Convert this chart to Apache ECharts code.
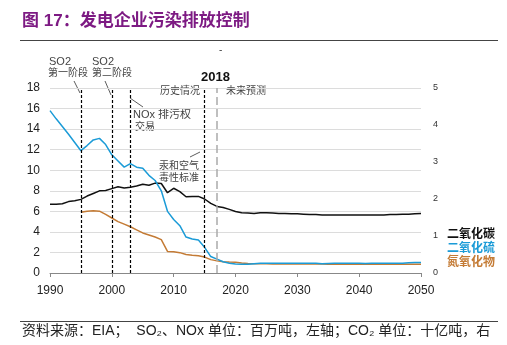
<!DOCTYPE html>
<html><head><meta charset="utf-8">
<script src="https://cdn.jsdelivr.net/npm/echarts@6/dist/echarts.min.js"></script>
<style>html,body{margin:0;padding:0;background:#fff}#c{width:507px;height:345px}</style>
</head><body><div id="c"></div>
<script>
// ---- data ----
const years = [];
for (let y = 1990; y <= 2050; y++) years.push(y);

const so2 = [15.8,15.0,14.25,13.5,12.7,11.9,12.4,12.95,13.1,12.5,
  11.5,10.9,10.3,10.65,10.3,10.2,9.5,9.0,8.0,6.0,
  5.2,4.6,3.5,3.3,3.2,2.5,1.6,1.35,1.1,0.95,
  0.88,0.85,0.86,0.9,0.94,0.96,0.96,0.96,0.96,0.96,
  0.96,0.96,0.95,0.94,0.9,0.93,0.95,0.96,0.96,0.96,
  0.95,0.92,0.94,0.95,0.95,0.95,0.95,0.96,1.0,1.02,
  1.02];
const nox = [null,null,null,null,null,5.9,6.0,6.05,6.02,5.7,
  5.35,5.0,4.75,4.5,4.2,3.9,3.7,3.5,3.25,2.1,
  2.07,1.98,1.8,1.72,1.68,1.55,1.3,1.18,1.1,1.07,
  1.05,0.98,0.92,0.9,0.89,0.89,0.88,0.88,0.88,0.88,
  0.88,0.88,0.88,0.88,0.87,0.86,0.86,0.86,0.86,0.86,
  0.86,0.86,0.86,0.86,0.86,0.86,0.86,0.86,0.85,0.85,
  0.85];
const co2 = [1.86,1.86,1.87,1.93,1.95,1.99,2.08,2.15,2.22,2.23,
  2.28,2.33,2.30,2.32,2.35,2.40,2.37,2.43,2.42,2.17,
  2.29,2.20,2.06,2.07,2.07,2.00,1.88,1.80,1.77,1.72,
  1.66,1.63,1.62,1.61,1.63,1.63,1.62,1.61,1.61,1.60,
  1.60,1.59,1.58,1.58,1.57,1.57,1.57,1.57,1.57,1.57,
  1.57,1.57,1.57,1.57,1.57,1.58,1.58,1.59,1.59,1.60,
  1.61];
const policyYears = [1995, 2000, 2003, 2015];
const forecastYear = 2017;
const leftTicks = {min: 0, max: 18, interval: 2};
const rightTicks = {min: 0, max: 5, interval: 1};
const xTicks = {min: 1990, max: 2050, interval: 10};
const seriesNames = ['二氧化碳', '二氧化硫', '氮氧化物'];

// ---- chart ----
const pairs = arr => years.map((y, i) => [y, arr[i]]);
const CJK = '"Liberation Sans","Noto Sans CJK SC",sans-serif';
const ann = '#444';
const chart = echarts.init(document.getElementById('c'), null, {renderer: 'canvas'});
chart.setOption({
  animation: false,
  textStyle: {fontFamily: CJK},
  grid: {left: 50, right: 86, top: 88, bottom: 72},
  legend: {
    orient: 'vertical', left: 442, top: 224, itemWidth: 0, itemHeight: 0, itemGap: 2,
    selectedMode: false, icon: 'rect',
    data: [
      {name: seriesNames[0], textStyle: {color: '#111'}},
      {name: seriesNames[1], textStyle: {color: '#1b9bd7'}},
      {name: seriesNames[2], textStyle: {color: '#c47b35'}}
    ],
    textStyle: {fontSize: 12, fontWeight: 'bold', fontFamily: CJK, padding: [0,0,0,-5]}
  },
  xAxis: {
    type: 'value', min: xTicks.min, max: xTicks.max, interval: xTicks.interval,
    axisLine: {lineStyle: {color: '#888'}},
    axisTick: {show: true, length: 4, lineStyle: {color: '#888'}},
    axisLabel: {color: '#222', fontSize: 12, margin: 12, fontFamily: CJK, formatter: v => String(v)},
    splitLine: {show: false}
  },
  yAxis: [{
    type: 'value', min: leftTicks.min, max: leftTicks.max, interval: leftTicks.interval,
    axisLine: {show: false}, axisTick: {show: false},
    axisLabel: {color: '#222', fontSize: 12, margin: 10, fontFamily: CJK},
    splitLine: {lineStyle: {color: '#dcdcdc', width: 1}}
  }, {
    type: 'value', min: rightTicks.min, max: rightTicks.max, interval: rightTicks.interval,
    position: 'right',
    axisLine: {show: false}, axisTick: {show: false},
    axisLabel: {color: '#333', fontSize: 9, margin: 12, fontFamily: CJK},
    splitLine: {show: false}
  }],
  series: [{
    name: seriesNames[0], type: 'line', yAxisIndex: 1, data: pairs(co2),
    symbol: 'none', lineStyle: {color: '#111', width: 1.5}, itemStyle: {color: '#111'}, z: 3
  }, {
    name: seriesNames[1], type: 'line', yAxisIndex: 0, data: pairs(so2),
    symbol: 'none', lineStyle: {color: '#1b9bd7', width: 1.5}, itemStyle: {color: '#1b9bd7'}, z: 4,
    markLine: {
      silent: true, symbol: 'none', label: {show: false},
      lineStyle: {color: '#000', type: [3, 2], width: 1.2},
      data: policyYears.map(y => ({xAxis: y})).concat([
        {xAxis: forecastYear, lineStyle: {color: '#aaa', type: [8, 4], width: 1.5}}
      ])
    }
  }, {
    name: seriesNames[2], type: 'line', yAxisIndex: 0, data: pairs(nox),
    symbol: 'none', lineStyle: {color: '#c47b35', width: 1.5}, itemStyle: {color: '#c47b35'}, z: 3
  }],
  graphic: [
    {type: 'text', left: 22, top: 13, style: {text: '图 17：发电企业污染排放控制', fill: '#7d1a83', font: 'bold 17px ' + CJK}},
    {type: 'line', shape: {x1: 20, y1: 40.5, x2: 498, y2: 40.5}, style: {stroke: '#444', lineWidth: 1}},
    {type: 'text', left: 219, top: 45, style: {text: '-', fill: '#444', font: '10px ' + CJK}},
    {type: 'text', left: 49, top: 56, style: {text: 'SO2', fill: ann, font: '11px ' + CJK}},
    {type: 'text', left: 48, top: 68, style: {text: '第一阶段', fill: ann, font: '10px ' + CJK}},
    {type: 'text', left: 92, top: 56, style: {text: 'SO2', fill: ann, font: '11px ' + CJK}},
    {type: 'text', left: 92, top: 68, style: {text: '第二阶段', fill: ann, font: '10px ' + CJK}},
    {type: 'line', shape: {x1: 74, y1: 81, x2: 80, y2: 93}, style: {stroke: '#333', lineWidth: 0.8}},
    {type: 'line', shape: {x1: 105, y1: 81, x2: 111, y2: 95}, style: {stroke: '#333', lineWidth: 0.8}},
    {type: 'text', left: 201, top: 71, style: {text: '2018', fill: '#111', font: 'bold 13px ' + CJK}},
    {type: 'text', left: 160, top: 86, style: {text: '历史情况', fill: ann, font: '10px ' + CJK}},
    {type: 'text', left: 226, top: 86, style: {text: '未来预测', fill: ann, font: '10px ' + CJK}},
    {type: 'line', shape: {x1: 130, y1: 98, x2: 143, y2: 107}, style: {stroke: '#333', lineWidth: 0.8}},
    {type: 'text', left: 133, top: 109, style: {text: 'NOx 排污权', fill: ann, font: '11px ' + CJK}},
    {type: 'text', left: 135, top: 122, style: {text: '交易', fill: ann, font: '10px ' + CJK}},
    {type: 'line', shape: {x1: 190, y1: 157, x2: 200, y2: 152}, style: {stroke: '#333', lineWidth: 0.8}},
    {type: 'text', left: 159, top: 161, style: {text: '汞和空气', fill: ann, font: '10px ' + CJK}},
    {type: 'text', left: 159, top: 173, style: {text: '毒性标准', fill: ann, font: '10px ' + CJK}},
    {type: 'line', shape: {x1: 20, y1: 321.5, x2: 498, y2: 321.5}, style: {stroke: '#444', lineWidth: 1}},
    {type: 'text', left: 22, top: 324, style: {text: '资料来源：EIA；  SO₂、NOx 单位：百万吨，左轴；CO₂ 单位：十亿吨，右', fill: '#222', font: '14px ' + CJK}}
  ]
});
</script>
</body></html>
